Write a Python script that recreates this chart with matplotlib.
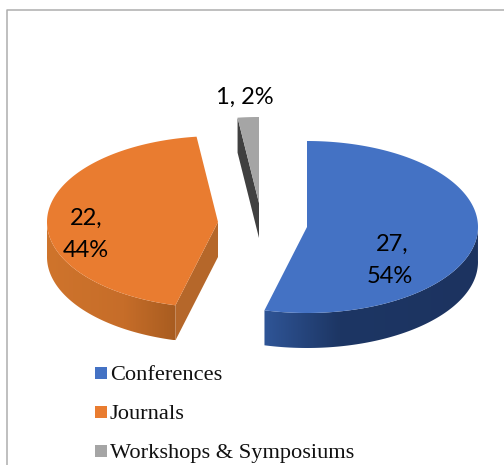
import numpy as np
import matplotlib
matplotlib.use("Agg")
from matplotlib import pyplot as plt
from matplotlib.colors import LinearSegmentedColormap
from matplotlib.patches import Polygon, Rectangle

# data
categories = ["Conferences", "Journals", "Workshops & Symposiums"]
counts = [27, 22, 1]
percents = ["54%", "44%", "2%"]

# styles
top_colors = ["#4472c4", "#e97c30", "#a5a5a5"]
side_stops = [
    [(0, "#2f5597"), (0.35, "#1d3664"), (1, "#1c3360")],
    [(0, "#cf742c"), (0.6, "#c66d29"), (1, "#a85c20")],
    [(0, "#555555"), (1, "#404040")],
]
cut_colors = ["#2a4c88", "#b5672a", "#404040"]
centers = [(307, 227), (218, 222), (259, 203)]
a = 171
b = 86
depth = 35


def ell(cx, cy, ang):
    # ang is degrees clockwise from 12 o'clock, y goes down
    r = np.radians(ang)
    return cx + a * np.sin(r), cy - b * np.cos(r)


fig = plt.figure(figsize=(5.04, 4.65), dpi=100)
ax = fig.add_axes([0, 0, 1, 1])
ax.axis("off")

# frame, no right side in the reference
ax.plot([7, 7, 504], [465, 10, 10], color="#adadad", lw=1.1)

total = sum(counts)
start = 0
for i, n in enumerate(counts):
    stop = start + 360 * n / total
    cx, cy = centers[i]
    angs = np.linspace(start, stop, 200)
    xs, ys = ell(cx, cy, angs)
    x0, y0 = ell(cx, cy, start)
    x1, y1 = ell(cx, cy, stop)

    # cut faces
    if i == 1:
        ax.add_patch(Polygon([(cx, cy), (x0, y0), (x0, y0 + depth), (cx, cy + depth)],
                             color=cut_colors[i], lw=0))
    if i == 2:
        ax.add_patch(Polygon([(cx, cy), (x0, y0), (x0, y0 + depth), (cx, cy + depth)],
                             color=cut_colors[i], lw=0))

    # outer wall, only the part that faces us, shaded left to right
    mask = np.cos(np.radians(angs)) < 0.02
    wx, wy = xs[mask], ys[mask]
    if len(wx) > 1:
        outline = np.vstack([np.column_stack([wx, wy]),
                             np.column_stack([wx[::-1], wy[::-1] + depth])])
        clip = Polygon(outline, transform=ax.transData, facecolor="none", edgecolor="none")
        ax.add_patch(clip)
        cmap = LinearSegmentedColormap.from_list(f"wall{i}", side_stops[i])
        im = ax.imshow(np.linspace(0, 1, 256)[None, :], cmap=cmap, aspect="auto",
                       extent=(wx.min(), wx.max(), wy.max() + depth, wy.min()))
        im.set_clip_path(clip)

    # top face
    ax.add_patch(Polygon(np.vstack([[cx, cy], np.column_stack([xs, ys])]),
                         facecolor=top_colors[i], edgecolor="none"))
    start = stop

# data labels
label_font = ["Lato", "DejaVu Sans"]
label_size = 17
ax.text(392, 244, f"{counts[0]},", ha="center", va="center", fontsize=label_size, family=label_font)
ax.text(390, 276, percents[0], ha="center", va="center", fontsize=label_size, family=label_font)
ax.text(86, 218, f"{counts[1]},", ha="center", va="center", fontsize=label_size, family=label_font)
ax.text(86, 250, percents[1], ha="center", va="center", fontsize=label_size, family=label_font)
ax.text(245, 97, f"{counts[2]}, {percents[2]}", ha="center", va="center", fontsize=label_size, family=label_font)

# legend
legend_y = [373, 412, 451]
for i, name in enumerate(categories):
    ax.add_patch(Rectangle((95, legend_y[i] - 6), 12, 12, facecolor=top_colors[i], edgecolor="none"))
    ax.text(110, legend_y[i] + 2, name, ha="left", va="center", fontsize=16.1,
            family="Liberation Serif", color="#111111")

ax.set_xlim(0, 504)
ax.set_ylim(465, 0)
fig.savefig("out.png", dpi=100)
